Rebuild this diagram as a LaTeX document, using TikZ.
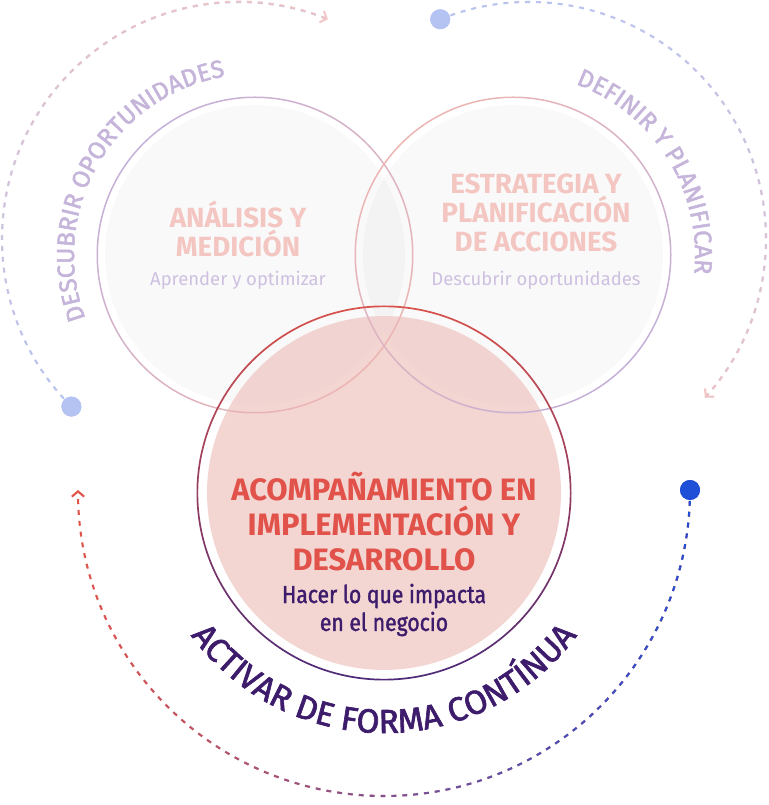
\documentclass[tikz,border=0pt]{standalone}
\usepackage{fontspec}
\setmainfont{Fira Sans}
\newfontfamily\narrowfont[FakeStretch=0.86,FakeBold=1.5]{Fira Sans}
\newfontfamily\medfont[FakeBold=2]{Fira Sans}
\usepackage{tikz}
\usetikzlibrary{arrows.meta}
\usetikzlibrary{fadings}
\usetikzlibrary{decorations.text}
\definecolor{softblue}{HTML}{B5C3F2}
\definecolor{softpink}{HTML}{F1C3C3}
\definecolor{deepblue}{HTML}{1F4FD6}
\definecolor{deepred}{HTML}{E2564B}
\definecolor{lavender}{HTML}{C5B5DA}
\definecolor{ringpurple}{HTML}{C4B0D8}
\definecolor{ringpink}{HTML}{EDB5B2}
\definecolor{headpink}{HTML}{F4C6C2}
\definecolor{sublav}{HTML}{CEC0E0}
\definecolor{titlered}{HTML}{E1524A}
\definecolor{darkplum}{HTML}{3E1C6C}
\definecolor{ringred}{HTML}{D8524C}
\definecolor{ringplum}{HTML}{4E2A78}
\definecolor{blushfill}{HTML}{F1CFCC}
\tikzset{stage/.style={circle,inner sep=0pt,minimum size=6cm,fill=black,fill opacity=0.022}}
\tikzset{core/.style={circle,inner sep=0pt,minimum size=7.08cm,fill=blushfill,fill opacity=0.88}}
\tikzset{ring/.style={even odd rule}}
\tikzset{heading/.style={align=center,text=headpink,font=\bfseries\fontsize{15.8}{16.5}\selectfont}}
\tikzset{subline/.style={text=sublav,font=\fontsize{10.5}{12}\selectfont}}
\tikzset{title/.style={align=center,text=titlered,font=\bfseries\fontsize{17.6}{19.9}\selectfont}}
\tikzset{subtitle/.style={align=center,text=darkplum,font=\narrowfont\fontsize{14}{15.9}\selectfont}}
\tikzset{dot/.style={circle,inner sep=0pt,minimum size=0.4cm}}
\tikzset{trail/.style={line width=1.2pt,dash pattern=on 2.8pt off 3.4pt}}

\begin{document}
\begin{tikzpicture}[x=0.02cm,y=0.02cm,>={Straight Barb[length=3pt,width=7pt]}]
		\useasboundingbox (0,0) rectangle (768,805);

		\coordinate (cA) at (255,550);
		\coordinate (cE) at (513,550);
		\coordinate (cI) at (384,312);
		\coordinate (oL) at (239,566);
		\coordinate (oR) at (529,566);
		\coordinate (oB) at (384,315);

		% circles
		\node[stage] (analisis) at (cA){};
		\node[stage] (estrategia) at (cE){};
		\node[core] (acomp) at (cI){};
		\shade[ring,top color=ringpurple,bottom color=ringpink,shading angle=45] (cA) circle (158.5) circle (157);
		\shade[ring,top color=ringpink,bottom color=ringpurple,shading angle=45] (cE) circle (158.5) circle (157);
		\shade[ring,top color=ringred,bottom color=ringplum] (cI) circle (187.5) circle (185.8);

		\node[heading] (analisisT) at (238,576){ANÁLISIS Y\\MEDICIÓN};
		\node[subline] (analisisS) at (238,525){Aprender y optimizar};
		\node[heading] (estrategiaT) at (536,592){ESTRATEGIA Y\\PLANIFICACIÓN\\DE ACCIONES};
		\node[subline] (estrategiaS) at (536,525){Descubrir oportunidades};
		\node[title] (acompT) at (384,283){ACOMPAÑAMIENTO EN\\IMPLEMENTACIÓN Y\\DESARROLLO};
		\node[subtitle] (acompS) at (384,195){Hacer lo que impacta\\en el negocio};

		% dots
		\node[dot,fill=softblue] (dotL) at ([shift={(225:237)}]oL){};
		\node[dot,fill=softblue] (dotR) at ([shift={(112:237)}]oR){};
		\node[dot,fill=deepblue] (dotB) at ([shift={(0:306)}]oB){};

		% cycle arcs
		\draw[trail,softblue] (dotL.center) arc[start angle=225,end angle=68,radius=237];
		\draw[trail,softpink,->,path fading=south] (dotL.center) arc[start angle=225,end angle=68,radius=237];

		\draw[trail,softblue] (dotR.center) arc[start angle=112,end angle=-42,radius=237];
		\draw[trail,softpink,->,path fading=north] (dotR.center) arc[start angle=112,end angle=-42,radius=237];

		\draw[trail,deepred,->] (dotB.center) arc[start angle=0,end angle=-180,radius=306];
		\draw[trail,deepblue,path fading=west] (dotB.center) arc[start angle=0,end angle=-180,radius=306];

		\node[dot,fill=softblue] at (dotL){};
		\node[dot,fill=softblue] at (dotR){};
		\node[dot,fill=deepblue] at (dotB){};

		% labels along the arcs
		\path[decorate,decoration={text along path,text align=center,text color=lavender,
			text={|\medfont\fontsize{14}{14}\selectfont|DESCUBRIR OPORTUNIDADES}}]
			([shift={(203:181)}]cA) arc[start angle=203,end angle=97,radius=181];
		\path[decorate,decoration={text along path,text align=center,text color=lavender,
			text={|\medfont\fontsize{14}{14}\selectfont|DEFINIR Y PLANIFICAR}}]
			([shift={(72:182)}]cE) arc[start angle=72,end angle=-8,radius=182];
		\path[decorate,decoration={text along path,text align=center,text color=darkplum,
			text={|\medfont\fontsize{19}{19}\selectfont|ACTIVAR DE FORMA CONTÍNUA}}]
			([shift={(213:240)}]cI) arc[start angle=213,end angle=327,radius=240];
	\end{tikzpicture}
\end{document}
